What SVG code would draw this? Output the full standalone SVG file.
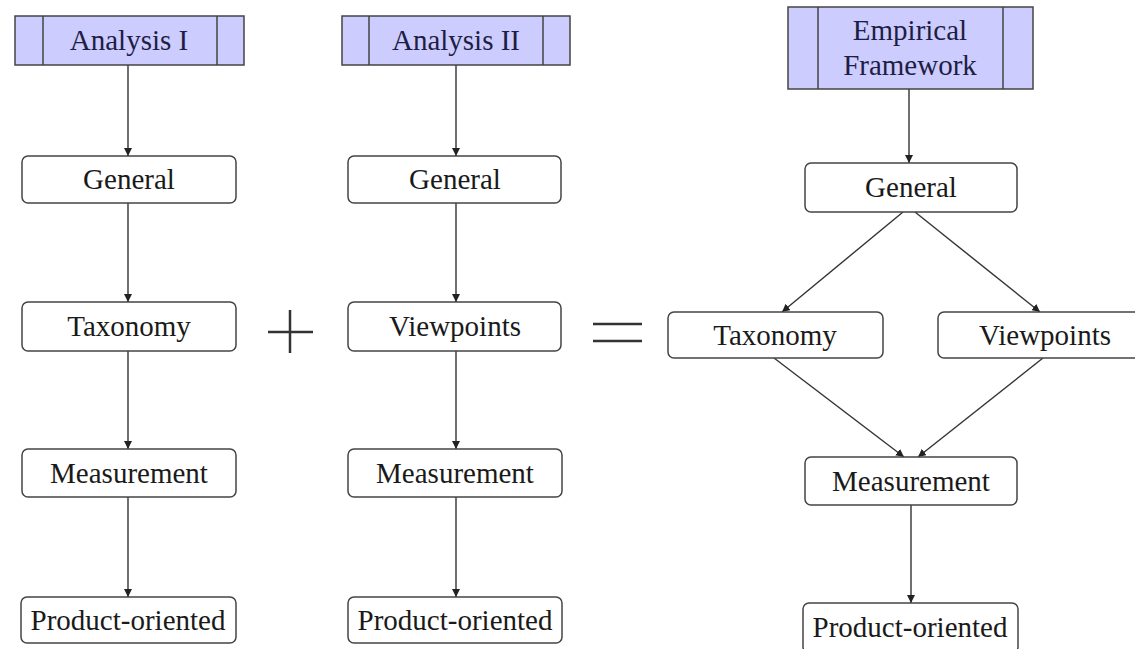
<svg xmlns="http://www.w3.org/2000/svg" width="1135" height="649" viewBox="0 0 1135 649">
<defs>
<marker id="ah" viewBox="0 0 10 10" refX="10" refY="5" markerWidth="8" markerHeight="8" markerUnits="userSpaceOnUse" orient="auto">
<path d="M0,0 L10,5 L0,10 z" fill="#222"/>
</marker>
<style>
.hdr{fill:#ccccff;stroke:#444;stroke-width:1.5}
.hl{stroke:#444;stroke-width:1.5}
.nd{fill:#fff;stroke:#444;stroke-width:1.5}
text{font-family:'Liberation Serif','DejaVu Serif','Times New Roman',serif;font-size:29px;text-anchor:middle}
.t{fill:#1a1a1a}
.th{fill:#1e1e44}
.c{stroke:#333;stroke-width:1.4;fill:none;marker-end:url(#ah)}
.op{stroke:#333;stroke-width:2.5;fill:none}
</style>
</defs>
<rect width="1135" height="649" fill="#fff"/>
<g id="connectors">
<line class="c" x1="128" y1="65" x2="128" y2="156"/>
<line class="c" x1="128" y1="203" x2="128" y2="302"/>
<line class="c" x1="128" y1="351" x2="128" y2="449"/>
<line class="c" x1="128" y1="497" x2="128" y2="597"/>
<line class="c" x1="456" y1="65" x2="456" y2="156"/>
<line class="c" x1="456" y1="203" x2="456" y2="302"/>
<line class="c" x1="456" y1="351" x2="456" y2="449"/>
<line class="c" x1="456" y1="497" x2="456" y2="597"/>
<line class="c" x1="909" y1="89" x2="909" y2="163"/>
<line class="c" x1="903" y1="212" x2="782" y2="312"/>
<line class="c" x1="915" y1="212" x2="1040" y2="312"/>
<line class="c" x1="774" y1="358" x2="904" y2="457"/>
<line class="c" x1="1043" y1="358" x2="918" y2="457"/>
<line class="c" x1="911" y1="505" x2="911" y2="603"/>
</g>
<g id="analysis1">
<rect class="hdr" x="15" y="16" width="229" height="49"/>
<line class="hl" x1="43" y1="16" x2="43" y2="65"/>
<line class="hl" x1="217" y1="16" x2="217" y2="65"/>
<text class="th" x="129" y="50" font-family="Liberation Serif, serif">Analysis I</text>
</g>
<g id="analysis2">
<rect class="hdr" x="342" y="16" width="228" height="49"/>
<line class="hl" x1="369" y1="16" x2="369" y2="65"/>
<line class="hl" x1="543" y1="16" x2="543" y2="65"/>
<text class="th" x="456" y="50">Analysis II</text>
</g>
<g id="empirical">
<rect class="hdr" x="788" y="7" width="245" height="82"/>
<line class="hl" x1="818" y1="7" x2="818" y2="89"/>
<line class="hl" x1="1003" y1="7" x2="1003" y2="89"/>
<text class="th" x="910" y="40">Empirical</text>
<text class="th" x="910" y="75">Framework</text>
</g>
<g id="general1"><rect class="nd" x="22" y="156" width="214" height="47" rx="6"/><text class="t" x="129" y="189">General</text></g>
<g id="taxonomy1"><rect class="nd" x="22" y="302" width="214" height="49" rx="6"/><text class="t" x="129" y="336">Taxonomy</text></g>
<g id="measurement1"><rect class="nd" x="22" y="449" width="214" height="48" rx="6"/><text class="t" x="129" y="483">Measurement</text></g>
<g id="product1"><rect class="nd" x="21" y="597" width="215" height="46" rx="6"/><text class="t" x="128" y="630">Product-oriented</text></g>
<g id="general2"><rect class="nd" x="348" y="156" width="213" height="47" rx="6"/><text class="t" x="455" y="189">General</text></g>
<g id="viewpoints2"><rect class="nd" x="348" y="302" width="213" height="49" rx="6"/><text class="t" x="455" y="336">Viewpoints</text></g>
<g id="measurement2"><rect class="nd" x="348" y="449" width="214" height="48" rx="6"/><text class="t" x="455" y="483">Measurement</text></g>
<g id="product2"><rect class="nd" x="348" y="597" width="214" height="46" rx="6"/><text class="t" x="455" y="630">Product-oriented</text></g>
<g id="general3"><rect class="nd" x="805" y="163" width="212" height="49" rx="6"/><text class="t" x="911" y="197">General</text></g>
<g id="taxonomy3"><rect class="nd" x="668" y="312" width="215" height="46" rx="6"/><text class="t" x="775" y="345">Taxonomy</text></g>
<g id="viewpoints3"><rect class="nd" x="938" y="312" width="214" height="46" rx="6"/><text class="t" x="1045" y="345">Viewpoints</text></g>
<g id="measurement3"><rect class="nd" x="805" y="457" width="212" height="48" rx="6"/><text class="t" x="911" y="491">Measurement</text></g>
<g id="product3"><rect class="nd" x="803" y="603" width="215" height="50" rx="6"/><text class="t" x="910" y="637">Product-oriented</text></g>
<g id="plus">
<line class="op" x1="268" y1="332" x2="313" y2="332"/>
<line class="op" x1="290" y1="310" x2="290" y2="353"/>
</g>
<g id="equals">
<line class="op" x1="593" y1="324" x2="642" y2="324"/>
<line class="op" x1="593" y1="341" x2="642" y2="341"/>
</g>
</svg>
